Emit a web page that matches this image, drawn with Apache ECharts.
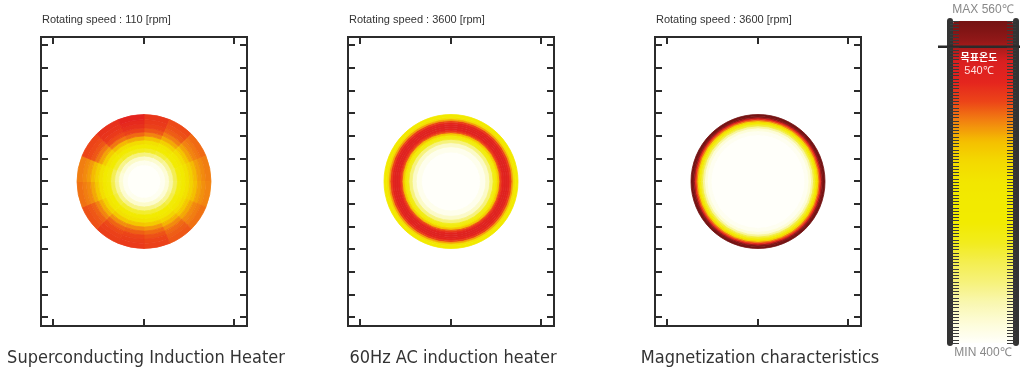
<!DOCTYPE html>
<html>
<head>
<meta charset="utf-8">
<script src="https://cdn.jsdelivr.net/npm/echarts@6/dist/echarts.min.js"></script>
<style>
  html, body { margin: 0; background: #fff; }
  #chart { width: 1028px; height: 372px; }
</style>
</head>
<body>
<div id="chart"></div>
<script>
// temperature scale [℃]
const tempMin = 400;
const tempMax = 560;
const tempTarget = 540;

const panelTitles = [
  "Rotating speed : 110 [rpm]",
  "Rotating speed : 3600 [rpm]",
  "Rotating speed : 3600 [rpm]"
];
const panelNames = [
  "Superconducting Induction Heater",
  "60Hz AC induction heater",
  "Magnetization characteristics"
];

// unlabeled frame ticks
const xTickMin = -1, xTickMax = 1, xTickStep = 1;
const yTickMin = 0, yTickMax = 12, yTickStep = 1;
const barTickStep = 1.6;

// panel 1 : 16 sectors clockwise from 12 o'clock [deg]; each row = one sector, centre -> rim
const sectors1 = [0, 22.5, 45, 67.5, 90, 112.5, 135, 157.5, 180, 202.5, 225, 247.5, 270, 292.5, 315, 337.5, 360];
const rings1 = [0, 0.25, 0.32, 0.38, 0.44, 0.5, 0.56, 0.62, 0.68, 0.74, 0.8, 0.86, 0.92, 1.0];
const temps1 = [
  [400, 404, 413, 429, 448, 467, 484, 499, 510, 517, 521, 523, 524],
  [400, 403, 412, 427, 445, 463, 480, 494, 504, 511, 516, 518, 519],
  [400, 403, 411, 424, 441, 459, 475, 488, 498, 505, 510, 512, 514],
  [400, 403, 410, 423, 439, 456, 471, 484, 494, 501, 506, 509, 511],
  [400, 403, 410, 422, 438, 455, 470, 483, 493, 500, 505, 508, 510],
  [400, 403, 411, 424, 441, 458, 474, 487, 497, 504, 509, 511, 513],
  [400, 403, 412, 426, 444, 462, 478, 492, 502, 509, 514, 516, 517],
  [400, 404, 413, 428, 446, 465, 482, 496, 507, 514, 518, 520, 521],
  [400, 404, 413, 428, 447, 466, 483, 498, 509, 516, 520, 522, 523],
  [400, 404, 413, 428, 447, 466, 483, 497, 508, 515, 519, 521, 522],
  [400, 403, 412, 426, 444, 462, 479, 493, 503, 510, 515, 517, 518],
  [400, 403, 411, 424, 441, 458, 474, 487, 497, 504, 509, 511, 513],
  [400, 403, 410, 423, 439, 456, 471, 484, 494, 501, 506, 509, 511],
  [400, 404, 413, 427, 446, 464, 481, 495, 505, 512, 517, 519, 520],
  [400, 404, 414, 429, 449, 469, 486, 501, 512, 519, 523, 525, 526],
  [400, 404, 414, 430, 450, 470, 488, 503, 514, 521, 526, 528, 530]
];

// panel 2 : 60Hz AC, nearly axisymmetric
const rings2 = [0, 0.44, 0.52, 0.58, 0.63, 0.67, 0.7, 0.73, 0.76, 0.79, 0.82, 0.85, 0.88, 0.91, 0.935, 0.96, 1.0];
const temps2 = [400, 404, 414, 430, 452, 476, 500, 520, 531, 536, 536, 532, 522, 505, 485, 468];

// panel 3 : magnetization, hot thin rim
const rings3 = [0, 0.7, 0.76, 0.8, 0.83, 0.86, 0.89, 0.91, 0.93, 0.95, 0.97, 1.0];
const temps3 = [400, 403, 410, 424, 445, 470, 496, 514, 532, 550, 560];

// colour scale 400 -> 560 (every 10 ℃)
const colorStops = [
  "#fffffa", "#fdfcd8", "#f9f7b0", "#f6f27c", "#f4ee50", "#f2ec1c", "#f2eb00", "#f2ea00",
  "#f2e600", "#f3da00", "#f4c000", "#f28410", "#ec4418", "#e4241e", "#da2020", "#921818", "#741313"
];

// layout
const panelLeft = [41, 348, 655];
const frameTop = 37, frameW = 206, frameH = 289;

// cells: rows[sector][ring]
function buildCells(rings, sectors, rows) {
  const out = [];
  for (let j = 0; j < sectors.length - 1; j++) {
    for (let i = 0; i < rings.length - 1; i++) {
      out.push([rings[i], rings[i + 1], sectors[j], sectors[j + 1], rows[j][i]]);
    }
  }
  return out;
}
const panelCells = [
  buildCells(rings1, sectors1, temps1),
  buildCells(rings2, [0, 360], [temps2]),
  buildCells(rings3, [0, 360], [temps3])
];

function renderCell(params, api) {
  const r0 = api.value(0), r1 = api.value(1), a0 = api.value(2), a1 = api.value(3);
  const c = api.coord([0, 0]);
  const pOut0 = api.coord([r1, a0]);
  const pOut1 = api.coord([r1, a1]);
  const pIn = api.coord([r0, a0]);
  const rOut = Math.hypot(pOut0[0] - c[0], pOut0[1] - c[1]);
  const rIn = Math.hypot(pIn[0] - c[0], pIn[1] - c[1]);
  const sa = Math.atan2(pOut0[1] - c[1], pOut0[0] - c[0]);
  let ea = Math.atan2(pOut1[1] - c[1], pOut1[0] - c[0]);
  if (a1 - a0 >= 360) ea = sa + Math.PI * 2;
  else if (ea <= sa) ea += Math.PI * 2;
  const color = api.visual("color");
  return {
    type: "sector",
    shape: { cx: c[0], cy: c[1], r0: rIn, r: rOut, startAngle: sa, endAngle: ea, clockwise: true },
    style: { fill: color, stroke: color, lineWidth: 0.8 }
  };
}

const grids = [], xAxes = [], yAxes = [], polars = [], radiusAxes = [], angleAxes = [];
const series = [], titles = [], texts = [];
const tickStyle = { inside: true, length: 7, lineStyle: { color: "#2b2b2b", width: 2 } };
const noLine = { show: false, onZero: false };

panelLeft.forEach((L, i) => {
  // frame
  grids.push({ left: L, top: frameTop, width: frameW, height: frameH, show: true,
    borderColor: "#2b2b2b", borderWidth: 2, backgroundColor: "transparent" });
  xAxes.push({ gridIndex: grids.length - 1, type: "value", show: false, min: 0, max: 1 });
  yAxes.push({ gridIndex: grids.length - 1, type: "value", show: false, min: 0, max: 1 });
  // ticks, pushed out onto the frame
  grids.push({ left: L + 12, top: frameTop + 8, width: 181, height: 272 });
  const g = grids.length - 1;
  [["top", 8], ["bottom", 9]].forEach(([pos, off]) => {
    xAxes.push({ gridIndex: g, type: "value", position: pos, offset: off,
      min: xTickMin, max: xTickMax, interval: xTickStep,
      axisLine: noLine, axisTick: tickStyle, axisLabel: { show: false }, splitLine: { show: false } });
  });
  [["left", 12], ["right", 13]].forEach(([pos, off]) => {
    yAxes.push({ gridIndex: g, type: "value", position: pos, offset: off,
      min: yTickMin, max: yTickMax, interval: yTickStep,
      axisLine: noLine, axisTick: tickStyle, axisLabel: { show: false }, splitLine: { show: false } });
  });
  // temperature disc
  polars.push({ center: [L + 103, 181.5], radius: 67 });
  radiusAxes.push({ polarIndex: i, type: "value", min: 0, max: 1, show: false });
  angleAxes.push({ polarIndex: i, type: "value", min: 0, max: 360, startAngle: 90, clockwise: true, show: false });
  series.push({
    type: "custom", coordinateSystem: "polar", polarIndex: i,
    encode: { radius: 0, angle: 2 },
    renderItem: renderCell, data: panelCells[i], silent: true
  });
  titles.push({ text: panelTitles[i], left: L + 1, top: 14, padding: 0,
    textStyle: { fontSize: 11, fontWeight: "normal", color: "#333", fontFamily: "Liberation Sans, Arial, sans-serif" } });
  texts.push({ type: "text", x: L + 105, y: 358,
    style: { text: panelNames[i], fill: "#333", align: "center", verticalAlign: "middle",
      textAlign: "center", textVerticalAlign: "middle",
      font: '18px "Liberation Sans Narrow", "DejaVu Sans Condensed", sans-serif' } });
});

// colour bar rails + comb ticks
grids.push({ left: 950, top: 21, width: 66, height: 322 });
const gBar = grids.length - 1;
xAxes.push({ gridIndex: gBar, type: "value", show: false, min: 0, max: 1 });
["left", "right"].forEach(pos => {
  yAxes.push({ gridIndex: gBar, type: "value", position: pos, z: 10,
    min: tempMin, max: tempMax, interval: barTickStep,
    axisLine: { show: true, onZero: false, lineStyle: { color: "#333", width: 6 } },
    axisTick: { inside: true, length: 9, lineStyle: { color: "#3a3a3a", width: 1 } },
    axisLabel: { show: false }, splitLine: { show: false } });
});

// target line
grids.push({ left: 938, top: 4, width: 82, height: 339 });
const gMark = grids.length - 1;
const markX = xAxes.length, markY = yAxes.length;
xAxes.push({ gridIndex: gMark, type: "value", show: false, min: 0, max: 1 });
yAxes.push({ gridIndex: gMark, type: "value", show: false, min: tempMin, max: tempMax });
series.push({
  type: "line", xAxisIndex: markX, yAxisIndex: markY, z: 10, silent: true,
  data: [[0, tempTarget], [1, tempTarget]], showSymbol: false,
  lineStyle: { color: "#2b2b2b", width: 2 },
  markLine: {
    silent: true, symbol: ["none", "none"],
    data: [{ yAxis: tempTarget }],
    lineStyle: { color: "#2b2b2b", width: 2, type: "solid" },
    label: {
      position: "insideMiddleBottom", distance: 4,
      formatter: "{a|목표온도}\n{b|" + tempTarget + "℃}",
      rich: {
        a: { fontFamily: "Noto Sans CJK KR", fontWeight: "bold", fontSize: 10, color: "#fff", lineHeight: 14, align: "center" },
        b: { fontFamily: "Liberation Sans Narrow, sans-serif", fontSize: 11, color: "#ffe0e0", lineHeight: 14, align: "center" }
      }
    }
  }
});

texts.push({ type: "text", x: 983, y: 10,
  style: { text: "MAX " + tempMax + "℃", fill: "#888", align: "center", verticalAlign: "middle",
    textAlign: "center", textVerticalAlign: "middle", font: '12px "Liberation Sans Narrow", sans-serif' } });
texts.push({ type: "text", x: 983, y: 353,
  style: { text: "MIN " + tempMin + "℃", fill: "#888", align: "center", verticalAlign: "middle",
    textAlign: "center", textVerticalAlign: "middle", font: '12px "Liberation Sans Narrow", sans-serif' } });

const chart = echarts.init(document.getElementById("chart"));
chart.setOption({
  animation: false,
  backgroundColor: "#fff",
  title: titles,
  grid: grids,
  xAxis: xAxes,
  yAxis: yAxes,
  polar: polars,
  radiusAxis: radiusAxes,
  angleAxis: angleAxes,
  visualMap: {
    type: "continuous", min: tempMin, max: tempMax, dimension: 4, seriesIndex: [0, 1, 2],
    orient: "vertical", left: 953, top: 21, itemWidth: 60, itemHeight: 322, padding: 0,
    calculable: false, hoverLink: false,
    inRange: { color: colorStops }
  },
  graphic: texts,
  series: series
});
</script>
</body>
</html>
